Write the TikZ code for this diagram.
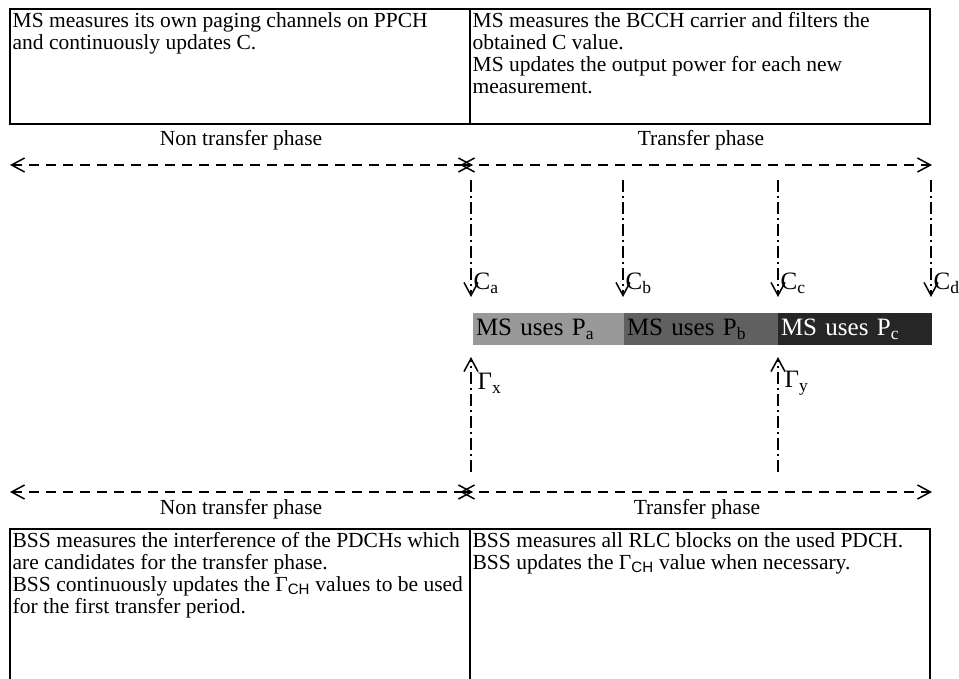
\documentclass[tikz,border=0pt]{standalone}
\usepackage{fontspec}
\setmainfont{Liberation Serif}
\newfontfamily\subsans{Liberation Sans}
\usetikzlibrary{arrows.meta,positioning}

\definecolor{segA}{HTML}{999999}
\definecolor{segB}{HTML}{606060}
\definecolor{segC}{HTML}{262626}

\tikzset{
  boxframe/.style={draw, minimum height=#1, minimum width=460pt, inner sep=0pt, outer sep=0pt, anchor=north west},
  boxtext/.style={anchor=north west, align=left, inner sep=1pt, font=\fontsize{21.5}{21.8}\selectfont},
  phasetext/.style={inner sep=1pt, font=\fontsize{21.5}{22}\selectfont},
  phaseline/.style={dash pattern=on 10pt off 7pt},
  dashdot/.style={dash pattern=on 12pt off 4pt on 2pt off 4pt},
  seg/.style={minimum height=32pt, inner xsep=3pt, inner ysep=0pt, outer sep=0pt, text width=#1, align=left, anchor=west, font=\fontsize{25}{26}\selectfont},
  clabel/.style={anchor=west, inner sep=0pt, font=\fontsize{25}{26}\selectfont}
}

\begin{document}
\begin{tikzpicture}[x=1pt, y=-1pt, line width=1.3pt, >={Straight Barb[length=13pt,width=14pt,line width=1.5pt]}]
  \useasboundingbox (0,0) rectangle (959,679);
  \clip (0,0) rectangle (959,679);

  % MS boxes
  \node[boxframe=115pt] (msl) at (10,9) {};
  \node[boxframe=115pt, right=0pt of msl] (msr) {};
  \node[boxtext] (msltext) at (11,11) {MS measures its own paging channels on PPCH\\and continuously updates C.};
  \node[boxtext] (msrtext) at (471,11) {MS measures the BCCH carrier and filters the\\obtained C value.\\MS updates the output power for each new\\measurement.};

  % upper phases
  \node[phasetext] (nontop) at (241,140) {Non transfer phase};
  \node[phasetext] (trtop) at (701,140) {Transfer phase};
  \coordinate (ntl) at (10,165);
  \coordinate (ntr) at (473,165);
  \coordinate (tpl) at (460,165);
  \coordinate (tpr) at (932,165);
  \draw[phaseline,<->] (ntl) -- (ntr);
  \draw[phaseline,<->] (tpl) -- (tpr);

  % measured C values
  \foreach \x/\s in {471/a, 623/b, 778/c, 931/d} {
    \coordinate (cs\s) at (\x,180);
    \coordinate (ce\s) at (\x,297);
    \draw[dashdot,->] (cs\s) -- (ce\s);
    \node[clabel] (c\s) at (\x+2,283) {C\textsubscript{\s}};
  }

  % output power
  \node[seg=145pt, fill=segA] (pa) at (473,329) {MS uses P\textsubscript{a}};
  \node[seg=148pt, fill=segB, right=0pt of pa] (pb) {MS uses P\textsubscript{b}};
  \node[seg=148pt, fill=segC, text=white, right=0pt of pb] (pc) {MS uses P\textsubscript{c}};

  % interference values
  \foreach \x/\s in {471/x, 778/y} {
    \coordinate (gs\s) at (\x,472);
    \coordinate (ge\s) at (\x,357);
    \draw[dashdot,->] (gs\s) -- (ge\s);
    \node[clabel] (g\s) at (\x+6,383) {Γ\textsubscript{\s}};
  }

  % lower phases
  \coordinate (nbl) at (10,492);
  \coordinate (nbr) at (473,492);
  \coordinate (tbl) at (460,492);
  \coordinate (tbr) at (932,492);
  \draw[phaseline,<->] (nbl) -- (nbr);
  \draw[phaseline,<->] (tbl) -- (tbr);
  \node[phasetext] (nonbot) at (241,509) {Non transfer phase};
  \node[phasetext] (trbot) at (697,509) {Transfer phase};

  % BSS boxes
  \node[boxframe=165pt] (bssl) at (10,529) {};
  \node[boxframe=165pt, right=0pt of bssl] (bssr) {};
  \node[boxtext] (bssltext) at (11,531) {BSS measures the interference of the PDCHs which\\are candidates for the transfer phase.\\BSS continuously updates the Γ\textsubscript{\subsans CH} values to be used\\for the first transfer period.};
  \node[boxtext] (bssrtext) at (471,531) {BSS measures all RLC blocks on the used PDCH.\\BSS updates the Γ\textsubscript{\subsans CH} value when necessary.};
\end{tikzpicture}
\end{document}
